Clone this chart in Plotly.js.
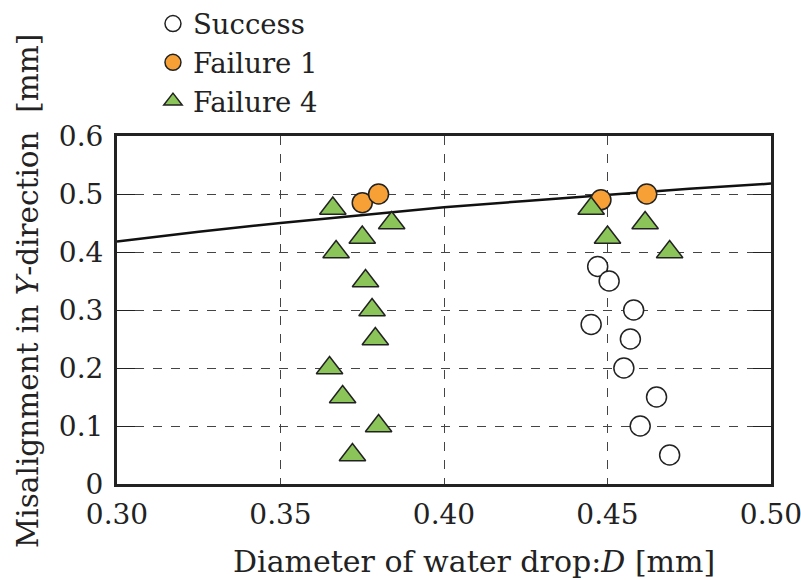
<!DOCTYPE html>
<html>
<head>
<meta charset="utf-8">
<script src="https://cdn.plot.ly/plotly-3.0.1.min.js"></script>
<style>html,body{margin:0;padding:0;background:#fff;}#chart{width:801px;height:580px;}</style>
</head>
<body>
<div id="chart"></div>
<script>
// Success points
var successD = [0.447, 0.4505, 0.458, 0.445, 0.457, 0.455, 0.465, 0.460, 0.469];
var successY = [0.375, 0.35, 0.30, 0.275, 0.25, 0.20, 0.15, 0.10, 0.05];
// Failure 1 points
var fail1D = [0.375, 0.380, 0.448, 0.462];
var fail1Y = [0.485, 0.50, 0.49, 0.50];
// Failure 4 points
var fail4D = [0.366, 0.384, 0.375, 0.367, 0.376, 0.378, 0.379, 0.365, 0.369, 0.380, 0.372, 0.445, 0.450, 0.4615, 0.469];
var fail4Y = [0.475, 0.45, 0.425, 0.40, 0.35, 0.30, 0.25, 0.20, 0.15, 0.10, 0.05, 0.475, 0.425, 0.45, 0.40];
// Boundary curve
var curveD = [0.30, 0.325, 0.35, 0.375, 0.40, 0.425, 0.45, 0.475, 0.50];
var curveY = [0.418, 0.435, 0.450, 0.464, 0.477, 0.488, 0.499, 0.509, 0.518];
// Axis ticks
var xTicks = [0.30, 0.35, 0.40, 0.45, 0.50];
var xTickText = ['0.30', '0.35', '0.40', '0.45', '0.50'];
var yTicks = [0, 0.1, 0.2, 0.3, 0.4, 0.5, 0.6];
var yTickText = ['0', '0.1', '0.2', '0.3', '0.4', '0.5', '0.6'];
// Axis titles
var xTitle = 'Diameter of water drop:<i>D</i> [mm]';
var yTitle = 'Misalignment in <i>Y</i>-direction\u00A0\u00A0[mm]';

var FONT = 'DejaVu Serif, Liberation Serif, serif';

var traces = [
  {x: curveD, y: curveY, mode: 'lines', line: {color: '#111', width: 2.5}, showlegend: false, hoverinfo: 'skip'},
  {x: successD, y: successY, mode: 'markers', name: 'Success',
   marker: {symbol: 'circle', size: 20, color: '#ffffff', line: {color: '#222', width: 1.5}}},
  {x: fail1D, y: fail1Y, mode: 'markers', name: 'Failure 1',
   marker: {symbol: 'circle', size: 20, color: '#F7A035', line: {color: '#222', width: 1.5}}},
  {x: fail4D, y: fail4Y, mode: 'markers', name: 'Failure 4',
   marker: {symbol: 'triangle-up', size: 23, color: '#8BC55A', line: {color: '#222', width: 1.5}}}
];

var layout = {
  width: 801, height: 580,
  margin: {l: 117, r: 30, t: 136, b: 96, autoexpand: false},
  paper_bgcolor: '#fff', plot_bgcolor: '#fff',
  font: {family: FONT, size: 26, color: '#222'},
  showlegend: true,
  legend: {x: 0.055, y: 1.393, xanchor: 'left', yanchor: 'top', bgcolor: 'rgba(0,0,0,0)',
           font: {family: FONT, size: 27.5, color: '#222'}, tracegroupgap: 0, itemwidth: 30},
  xaxis: {
    range: [0.30, 0.50], tickmode: 'array', tickvals: xTicks, ticktext: xTickText,
    showgrid: true, gridcolor: '#444', gridwidth: 1, griddash: 'dash',
    showline: true, linecolor: '#222', linewidth: 3, mirror: true,
    ticks: '', zeroline: false, ticklabelstandoff: 3, ticklabeloverflow: 'allow',
    tickfont: {family: FONT, size: 28, color: '#222'}
  },
  yaxis: {
    range: [0, 0.6], tickmode: 'array', tickvals: yTicks, ticktext: yTickText,
    showgrid: true, gridcolor: '#444', gridwidth: 1, griddash: 'dash',
    showline: true, linecolor: '#222', linewidth: 3, mirror: 'ticks',
    ticks: 'inside', ticklen: 18, tickcolor: '#222', tickwidth: 1, zeroline: false,
    ticklabelstandoff: 5,
    tickfont: {family: FONT, size: 28, color: '#222'}
  },
  annotations: [
    {text: xTitle, xref: 'paper', yref: 'paper', x: 0.546, y: -0.224, xanchor: 'center', yanchor: 'middle',
     showarrow: false, font: {family: FONT, size: 30, color: '#222'}},
    {text: yTitle, xref: 'paper', yref: 'paper', x: -0.136, y: 0.555, xanchor: 'center', yanchor: 'middle',
     textangle: -90, showarrow: false, font: {family: FONT, size: 29.5, color: '#222'}}
  ]
};

Plotly.newPlot('chart', traces, layout, {displayModeBar: false, responsive: false});
</script>
</body>
</html>
